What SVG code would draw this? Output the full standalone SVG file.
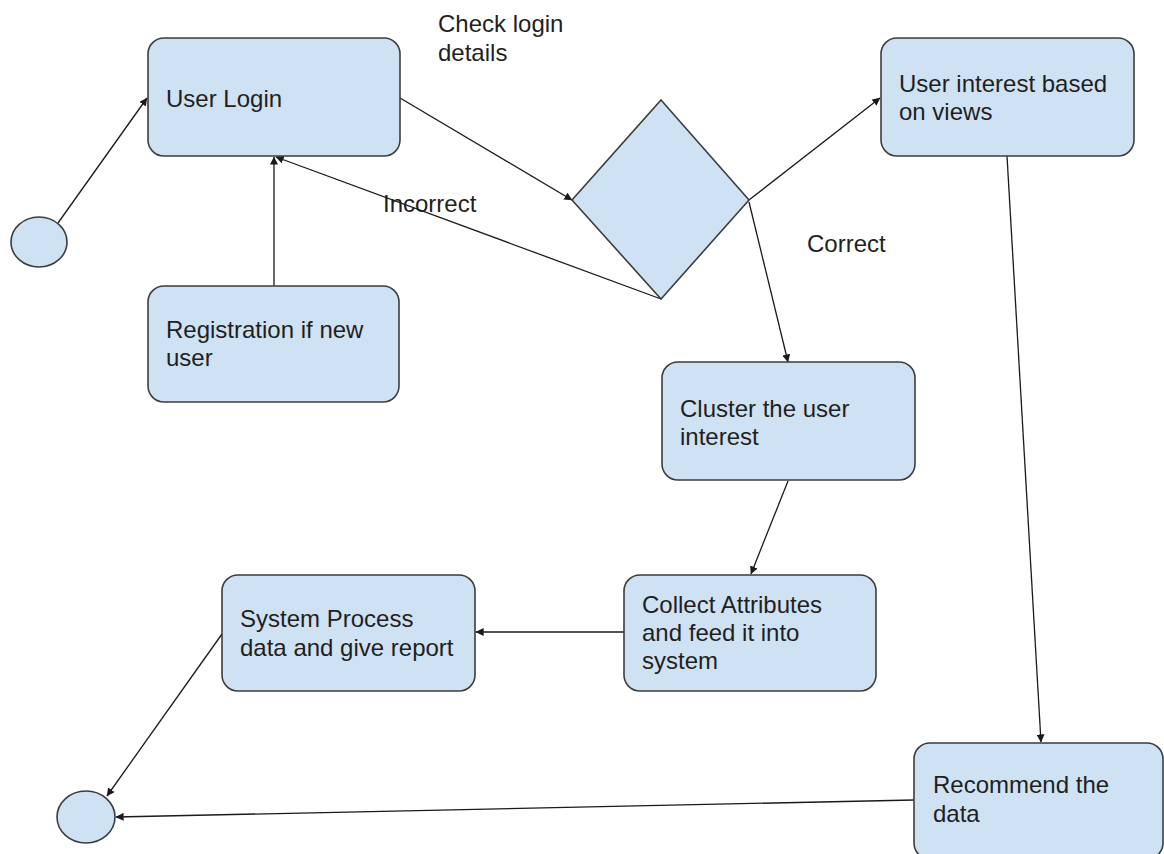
<svg xmlns="http://www.w3.org/2000/svg" width="1164" height="854" viewBox="0 0 1164 854">
<defs>
<style>
.box{fill:#cfe2f3;stroke:#3d3d3d;stroke-width:1.6}
.t{font-family:"Liberation Sans",Arial,sans-serif;font-size:24px;fill:#1f1f1f}
.c{fill:none;stroke:#1a1a1a;stroke-width:1.3}
</style>
<marker id="ah" viewBox="0 0 10 10" refX="9.5" refY="5" markerWidth="8" markerHeight="8" markerUnits="userSpaceOnUse" orient="auto">
<path d="M0,0 L10,5 L0,10 z" fill="#1a1a1a"/>
</marker>
</defs>
<rect width="1164" height="854" fill="#ffffff"/>

<g id="connectors">
<line class="c" x1="58" y1="223" x2="147" y2="98" marker-end="url(#ah)"/>
<line class="c" x1="274" y1="286" x2="274" y2="157" marker-end="url(#ah)"/>
<line class="c" x1="400" y1="98" x2="572" y2="200" marker-end="url(#ah)"/>
<line class="c" x1="661" y1="299" x2="276" y2="157" marker-end="url(#ah)"/>
<line class="c" x1="749" y1="200" x2="880" y2="98" marker-end="url(#ah)"/>
<line class="c" x1="749" y1="202" x2="788" y2="362" marker-end="url(#ah)"/>
<line class="c" x1="788" y1="481" x2="751" y2="574" marker-end="url(#ah)"/>
<line class="c" x1="624" y1="632" x2="476" y2="632" marker-end="url(#ah)"/>
<line class="c" x1="222" y1="634" x2="107" y2="796" marker-end="url(#ah)"/>
<line class="c" x1="914" y1="800" x2="116" y2="817" marker-end="url(#ah)"/>
<line class="c" x1="1007" y1="156" x2="1041" y2="742" marker-end="url(#ah)"/>
</g>

<g id="start"><ellipse class="box" cx="39" cy="242" rx="28" ry="25"/></g>
<g id="end"><ellipse class="box" cx="86" cy="817" rx="29" ry="26"/></g>

<g id="user-login">
<rect class="box" x="148" y="38" width="252" height="118" rx="16"/>
<text class="t" x="166" y="107">User Login</text>
</g>

<g id="registration">
<rect class="box" x="148" y="286" width="251" height="116" rx="16"/>
<text class="t" x="166" y="338">Registration if new</text>
<text class="t" x="166" y="366">user</text>
</g>

<g id="decision">
<polygon class="box" points="661,100 749,200 661,299 572,200"/>
</g>

<g id="labels">
<text class="t" x="438" y="32">Check login</text>
<text class="t" x="438" y="61">details</text>
<text class="t" x="383" y="212">Incorrect</text>
<text class="t" x="807" y="252">Correct</text>
</g>

<g id="user-interest">
<rect class="box" x="881" y="38" width="253" height="118" rx="16"/>
<text class="t" x="899" y="92">User interest based</text>
<text class="t" x="899" y="120">on views</text>
</g>

<g id="cluster">
<rect class="box" x="662" y="362" width="253" height="118" rx="16"/>
<text class="t" x="680" y="417">Cluster the user</text>
<text class="t" x="680" y="445">interest</text>
</g>

<g id="collect">
<rect class="box" x="624" y="575" width="252" height="116" rx="16"/>
<text class="t" x="642" y="613">Collect Attributes</text>
<text class="t" x="642" y="641">and feed it into</text>
<text class="t" x="642" y="669">system</text>
</g>

<g id="system">
<rect class="box" x="222" y="575" width="253" height="116" rx="16"/>
<text class="t" x="240" y="627">System Process</text>
<text class="t" x="240" y="656">data and give report</text>
</g>

<g id="recommend">
<rect class="box" x="914" y="743" width="249" height="116" rx="16"/>
<text class="t" x="933" y="793">Recommend the</text>
<text class="t" x="933" y="822">data</text>
</g>
</svg>
